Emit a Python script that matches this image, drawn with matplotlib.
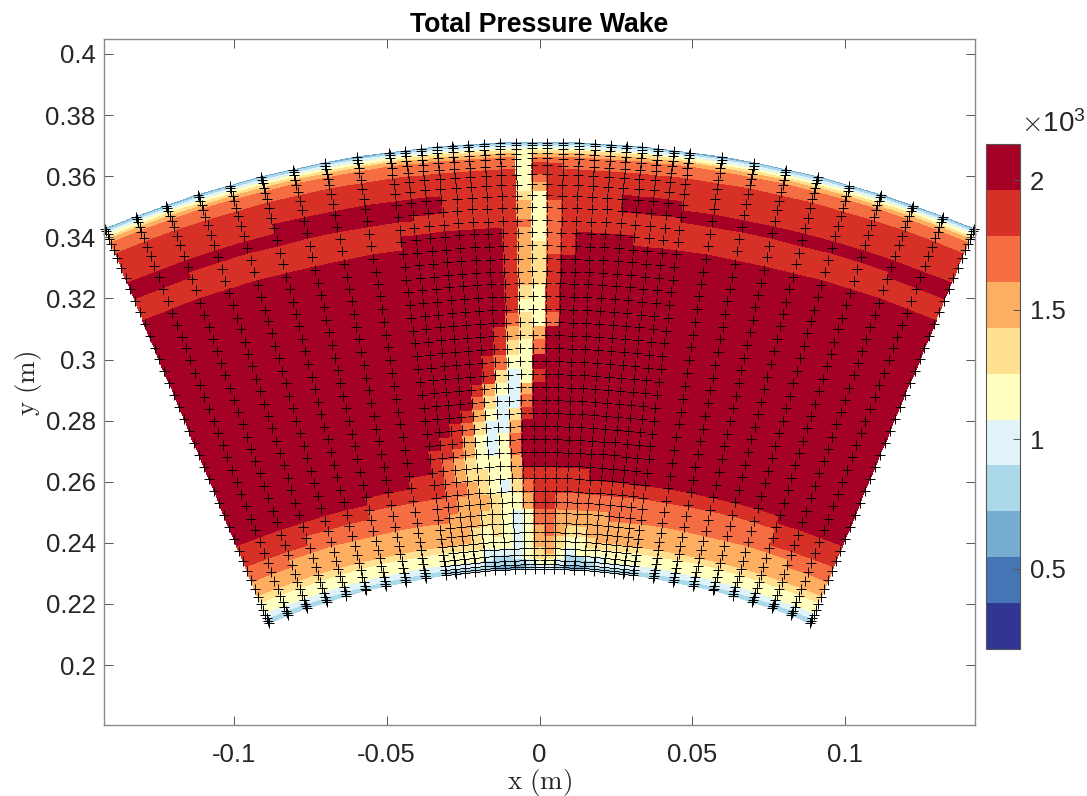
import matplotlib as mpl
mpl.use('Agg')
import matplotlib.pyplot as plt
from matplotlib.colors import ListedColormap, BoundaryNorm
import numpy as np

mpl.rcParams['font.family'] = ['Liberation Sans', 'DejaVu Sans']
mpl.rcParams['mathtext.fontset'] = 'cm'

# probe spokes, degrees from the vertical
spoke_deg = [-22.5, -20.85, -19.2, -17.5, -15.85, -14.2, -12.55, -10.9, -9.26,
             -7.6, -6.8, -6.0, -5.2, -4.4, -3.6, -2.8, -2.0, -1.2, -0.4,
             0.4, 1.2, 2.0, 2.8, 3.6, 4.4, 5.2, 6.0, 6.8, 7.6,
             9.26, 10.9, 12.55, 14.2, 15.85, 17.5, 19.2, 20.85, 22.5]

# probe radii (m)
probe_r = [0.2315, 0.23215, 0.23304, 0.23434, 0.23608, 0.23826, 0.24065, 0.24349,
           0.24653, 0.2498, 0.2534, 0.25699, 0.26124, 0.26532, 0.26974, 0.27398,
           0.27823, 0.28248, 0.28673, 0.29098, 0.29522, 0.29947, 0.30372, 0.30797,
           0.31222, 0.31647, 0.32072, 0.32496, 0.32888, 0.33313, 0.33738, 0.34163,
           0.34555, 0.3498, 0.35372, 0.35732, 0.36059, 0.36353, 0.36582, 0.36745,
           0.36909, 0.37017, 0.371]

# radial edges of the colour cells, outer to inner
cell_r = [0.3710, 0.3706, 0.3700, 0.3691, 0.3683, 0.3674, 0.3661, 0.3642, 0.3622,
          0.3604, 0.3577, 0.3548, 0.3518, 0.3490, 0.3476, 0.3458, 0.3430, 0.3417,
          0.3400, 0.3385, 0.3342, 0.3284, 0.3240, 0.3196, 0.3152, 0.3108, 0.3064,
          0.3015, 0.2966, 0.2922, 0.2884, 0.2841, 0.2802, 0.2759, 0.2720, 0.2687,
          0.2645, 0.2606, 0.2582, 0.2562, 0.2535, 0.2507, 0.2480, 0.2455, 0.2420,
          0.2405, 0.2383, 0.2360, 0.2345, 0.2325, 0.2315]

# pressure value of each level code (Pa)
level_values = [2050, 1873, 1696, 1519, 1342, 1165, 988, 811, 634, 457, 280]

# level code per cell, one string per radial band, outer to inner
level_rows = [
    "888888888 888888888 8 888888888 888888888",
    "777777777 777777777 7 777777777 777777777",
    "666666666 666666666 6 666666666 666666666",
    "555555555 555555555 5 555555555 555555555",
    "444444444 444444445 4 444444444 444444444",
    "333333333 333333335 3 333333333 333333333",
    "222222222 222222225 2 222222222 222222222",
    "222222222 222222225 1 122222222 222222222",
    "111111111 111111115 1 111111111 111111111",
    "111111111 111111115 2 111111111 111111111",
    "111111111 111111115 3 111111111 111111111",
    "111110000 000111114 5 111110000 111111111",
    "000000000 000111113 5 211110000 000000000",
    "000000000 011111113 5 211111111 000000000",
    "001111111 111111113 5 211111111 111111100",
    "111111111 111111112 5 211111111 111111111",
    "111111111 000000013 5 211111111 111111111",
    "111111111 000000013 5 210000111 111111111",
    "111111111 000000013 5 210000111 111111111",
    "000000000 000000013 4 210000000 000000000",
    "000000000 000000013 4 100000000 000000000",
    "000000000 000000013 4 100000000 000000000",
    "000000000 000000014 5 100000000 000000000",
    "000000000 000000015 5 100000000 000000000",
    "000000000 000000024 5 200000000 000000000",
    "000000000 000000134 3 000000000 000000000",
    "000000000 000000145 2 000000000 000000000",
    "000000000 000001255 0 000000000 000000000",
    "000000000 000001465 1 000000000 000000000",
    "000000000 000013563 0 000000000 000000000",
    "000000000 000024662 0 000000000 000000000",
    "000000000 000135641 0 000000000 000000000",
    "000000000 001246630 0 000000000 000000000",
    "000000000 011356520 0 000000000 000000000",
    "000000000 112356520 0 000000000 000000000",
    "000000000 123455530 0 000000000 000000000",
    "000000001 123445531 1 111100000 000000000",
    "000000111 122345642 1 111111111 111111000",
    "111111111 122345642 1 111111111 111111111",
    "111111222 223334553 1 122222222 222222111",
    "111222222 223334553 1 122222222 222222111",
    "222222222 233344565 2 233333222 222222222",
    "223333333 333344565 2 233333333 333333322",
    "333333333 333454565 3 234433333 333333333",
    "333333333 333455565 3 345543333 333333333",
    "444444444 444455565 3 345544444 444444444",
    "555555555 555566665 4 356555555 555555555",
    "555555555 555567765 4 457766555 555555555",
    "666666666 666677776 5 567776666 666666666",
    "777777777 777778887 6 678877777 777777777",
]

colour_list = ['#a50026', '#d73027', '#f46d43', '#fdae61', '#fee090', '#ffffbf',
               '#e0f3f8', '#abd9e9', '#74add1', '#4575b4', '#313695']
cbar_edges = [191, 368, 545, 722, 899, 1076, 1253, 1430, 1607, 1785, 1962, 2139]


def main():
    levels = [[int(c) for c in row.replace(' ', '')] for row in level_rows]
    P = np.array(level_values)[np.array(levels)]

    # cell corners on the sector
    th, rr = np.meshgrid(np.radians(spoke_deg), cell_r)
    X = rr * np.sin(th)
    Y = rr * np.cos(th)

    cmap = ListedColormap(colour_list[::-1])
    norm = BoundaryNorm(cbar_edges, cmap.N)

    W, H = 1087.0, 796.0
    fig = plt.figure(figsize=(W / 100, H / 100), dpi=100)
    ax = fig.add_axes([104 / W, 1 - 725 / H, 871 / W, 686 / H])
    mesh = ax.pcolormesh(X, Y, P, cmap=cmap, norm=norm, shading='flat',
                         edgecolors='face', linewidth=0.15)

    # probes
    th2, rr2 = np.meshgrid(np.radians(spoke_deg), probe_r)
    ax.plot((rr2 * np.sin(th2)).ravel(), (rr2 * np.cos(th2)).ravel(), '+', color='k',
            markersize=7.5, markeredgewidth=0.7, clip_on=False)

    ax.set_xlim(-0.1424, 0.1424)
    ax.set_ylim(0.1804, 0.4049)
    ax.set_xticks([-0.1, -0.05, 0, 0.05, 0.1])
    ax.set_xticklabels(['-0.1', '-0.05', '0', '0.05', '0.1'])
    ax.set_yticks([0.2, 0.22, 0.24, 0.26, 0.28, 0.3, 0.32, 0.34, 0.36, 0.38, 0.4])
    ax.set_yticklabels(['0.2', '0.22', '0.24', '0.26', '0.28', '0.3', '0.32', '0.34',
                        '0.36', '0.38', '0.4'])
    ax.tick_params(direction='in', top=True, right=True, length=6.5, width=0.7,
                   color='#555555', labelsize=18.5, labelcolor='#262626', pad=6)
    ax.tick_params(axis='x', pad=13)
    for s in ax.spines.values():
        s.set_color('#8a8a8a')
        s.set_linewidth(1.0)

    fig.text(539.5 / W, 1 - 25 / H, 'Total Pressure Wake', fontsize=19.2, fontweight='bold',
             ha='center', va='center', color='k')
    fig.text(539.5 / W, 1 - 782 / H, r'$\mathrm{x\ (m)}$', fontsize=19.5, ha='center',
             va='center', color='#262626')
    fig.text(28 / W, 1 - 383 / H, r'$\mathrm{y\ (m)}$', fontsize=19.5, ha='center',
             va='center', rotation=90, color='#262626')

    cax = fig.add_axes([986 / W, 1 - 649 / H, 34 / W, 505 / H])
    cb = fig.colorbar(mesh, cax=cax, spacing='proportional', drawedges=False)
    cb.set_ticks([500, 1000, 1500, 2000])
    cb.set_ticklabels(['0.5', '1', '1.5', '2'])
    cb.minorticks_off()
    cax.tick_params(direction='in', length=5, width=0.7, color='#555555', labelsize=18.5,
                    labelcolor='#262626', pad=7)
    cb.outline.set_edgecolor('#555555')
    cb.outline.set_linewidth(0.8)
    fig.text(1021 / W, 1 - 124 / H, r'$\times\mathdefault{10^3}$', fontsize=20, ha='left',
             va='center', color='#262626')

    fig.savefig('out.png', dpi=100)


if __name__ == "__main__":
    main()
